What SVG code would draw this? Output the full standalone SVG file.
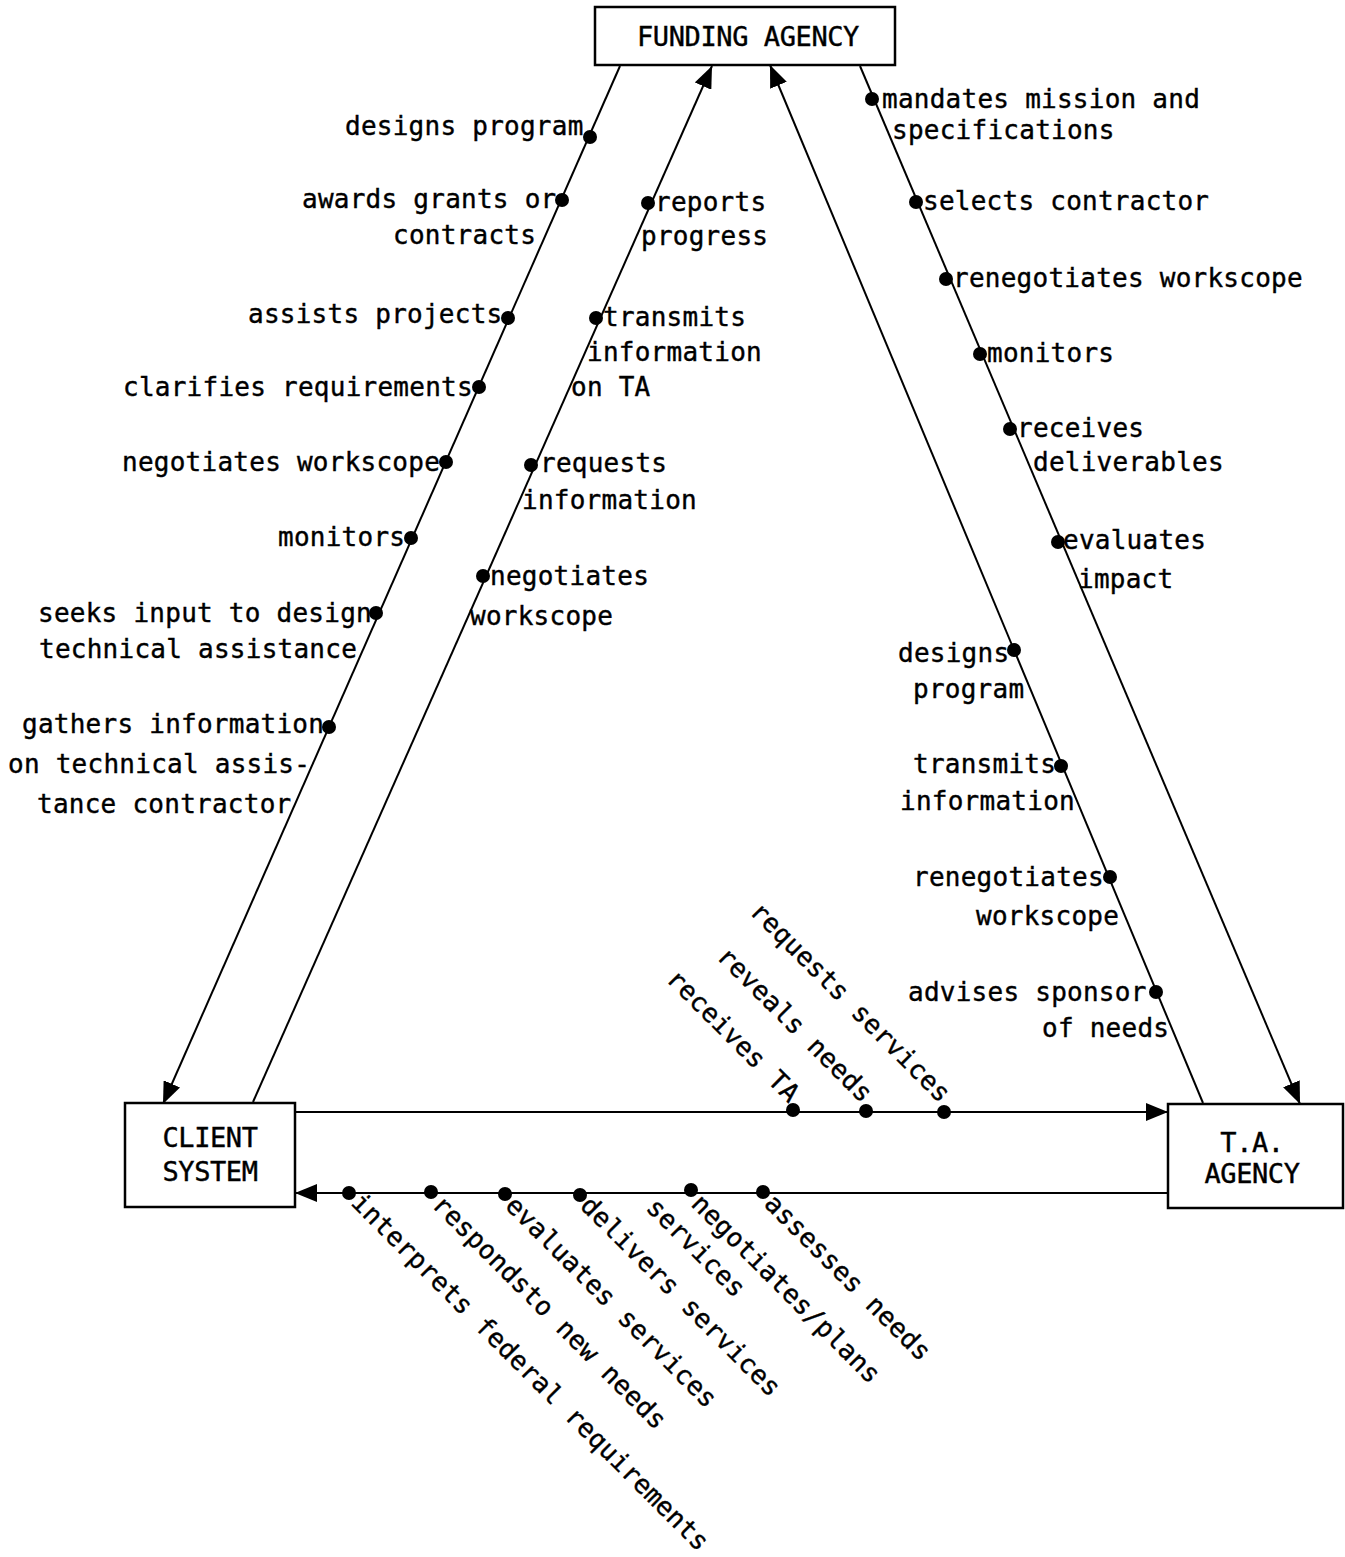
<svg xmlns="http://www.w3.org/2000/svg" width="1345" height="1557" viewBox="0 0 1345 1557">
<style>
text{font-family:"DejaVu Sans Mono","Liberation Mono",monospace;font-size:26px;letter-spacing:0.25px;fill:#000;stroke:#000;stroke-width:0.4}
.box{fill:#fff;stroke:#000;stroke-width:2.5}
.bl{font-size:27px;letter-spacing:-0.4px;text-anchor:middle}
.ln{stroke:#000;stroke-width:2;fill:none}
.dot{fill:#000}
</style>
<defs>
<marker id="ah" viewBox="0 0 22 18" refX="22" refY="9" markerWidth="22" markerHeight="18" markerUnits="userSpaceOnUse" orient="auto">
<path d="M0,0 L22,9 L0,18 z" fill="#000"/>
</marker>
</defs>
<rect width="1345" height="1557" fill="#fff"/>
<g id="connectors">
<line class="ln" x1="620" y1="66" x2="163" y2="1104" marker-end="url(#ah)"/>
<line class="ln" x1="253" y1="1102" x2="712" y2="66" marker-end="url(#ah)"/>
<line class="ln" x1="1203" y1="1103" x2="770" y2="65" marker-end="url(#ah)"/>
<line class="ln" x1="860" y1="66" x2="1300" y2="1104" marker-end="url(#ah)"/>
<line class="ln" x1="295" y1="1112" x2="1168" y2="1112" marker-end="url(#ah)"/>
<line class="ln" x1="1168" y1="1193" x2="295" y2="1193" marker-end="url(#ah)"/>
<g class="dot">
<circle cx="590" cy="137" r="7"/><circle cx="562" cy="200" r="7"/><circle cx="508" cy="318" r="7"/><circle cx="479" cy="387" r="7"/><circle cx="446" cy="462" r="7"/><circle cx="411" cy="538" r="7"/><circle cx="376" cy="613" r="7"/><circle cx="329" cy="727" r="7"/>
<circle cx="648" cy="203" r="7"/><circle cx="596" cy="318" r="7"/><circle cx="531" cy="465" r="7"/><circle cx="483" cy="576" r="7"/>
<circle cx="872" cy="99" r="7"/><circle cx="916" cy="202" r="7"/><circle cx="946" cy="279" r="7"/><circle cx="980" cy="354" r="7"/><circle cx="1010" cy="429" r="7"/><circle cx="1058" cy="542" r="7"/>
<circle cx="1014" cy="650" r="7"/><circle cx="1061" cy="766" r="7"/><circle cx="1110" cy="877" r="7"/><circle cx="1156" cy="992" r="7"/>
<circle cx="793" cy="1110" r="7"/><circle cx="866" cy="1111" r="7"/><circle cx="944" cy="1112" r="7"/>
<circle cx="349" cy="1193" r="7"/><circle cx="431" cy="1192" r="7"/><circle cx="505" cy="1194" r="7"/><circle cx="580" cy="1195" r="7"/><circle cx="691" cy="1190" r="7"/><circle cx="763" cy="1192" r="7"/>
</g>
<g id="labels">
<text x="345" y="135">designs program</text>
<text x="302" y="208">awards grants or</text>
<text x="393" y="244">contracts</text>
<text x="248" y="323">assists projects</text>
<text x="123" y="396">clarifies requirements</text>
<text x="122" y="471">negotiates workscope</text>
<text x="278" y="546">monitors</text>
<text x="38" y="622">seeks input to design</text>
<text x="39" y="658">technical assistance</text>
<text x="22" y="733">gathers information</text>
<text x="8" y="773">on technical assis-</text>
<text x="37" y="813">tance contractor</text>
<text x="655" y="211">reports</text>
<text x="641" y="245">progress</text>
<text x="603" y="326">transmits</text>
<text x="587" y="361">information</text>
<text x="571" y="396">on TA</text>
<text x="540" y="472">requests</text>
<text x="522" y="509">information</text>
<text x="490" y="585">negotiates</text>
<text x="470" y="625">workscope</text>
<text x="882" y="108">mandates mission and</text>
<text x="892" y="139">specifications</text>
<text x="923" y="210">selects contractor</text>
<text x="953" y="287">renegotiates workscope</text>
<text x="987" y="362">monitors</text>
<text x="1017" y="437">receives</text>
<text x="1033" y="471">deliverables</text>
<text x="1063" y="549">evaluates</text>
<text x="1078" y="588">impact</text>
<text x="898" y="662">designs</text>
<text x="913" y="698">program</text>
<text x="913" y="773">transmits</text>
<text x="900" y="810">information</text>
<text x="913" y="886">renegotiates</text>
<text x="976" y="925">workscope</text>
<text x="908" y="1001">advises sponsor</text>
<text x="1042" y="1037">of needs</text>
<text transform="translate(940,1104) rotate(45)" text-anchor="end">requests services</text>
<text transform="translate(862,1104) rotate(45)" text-anchor="end">reveals needs</text>
<text transform="translate(789,1104) rotate(45)" text-anchor="end">receives TA</text>
<text transform="translate(350,1204) rotate(45)">interprets federal requirements</text>
<text transform="translate(431,1206) rotate(45)">respondsto new needs</text>
<text transform="translate(504,1207) rotate(45)">evaluates services</text>
<text transform="translate(579,1207) rotate(45)">delivers services</text>
<text transform="translate(690,1205) rotate(45)">negotiates/plans</text>
<text transform="translate(645,1209) rotate(45)">services</text>
<text transform="translate(763,1205) rotate(45)">assesses needs</text>
</g>
</g>
<g id="funding-agency">
<rect class="box" x="595" y="7" width="300" height="58"/>
<text class="bl" x="748" y="46">FUNDING AGENCY</text>
</g>
<g id="client-system">
<rect class="box" x="125" y="1103" width="170" height="104"/>
<text class="bl" x="210" y="1147">CLIENT</text>
<text class="bl" x="210" y="1181">SYSTEM</text>
</g>
<g id="ta-agency">
<rect class="box" x="1168" y="1104" width="175" height="104"/>
<text class="bl" x="1252" y="1152">T.A.</text>
<text class="bl" x="1252" y="1183">AGENCY</text>
</g>
</svg>
